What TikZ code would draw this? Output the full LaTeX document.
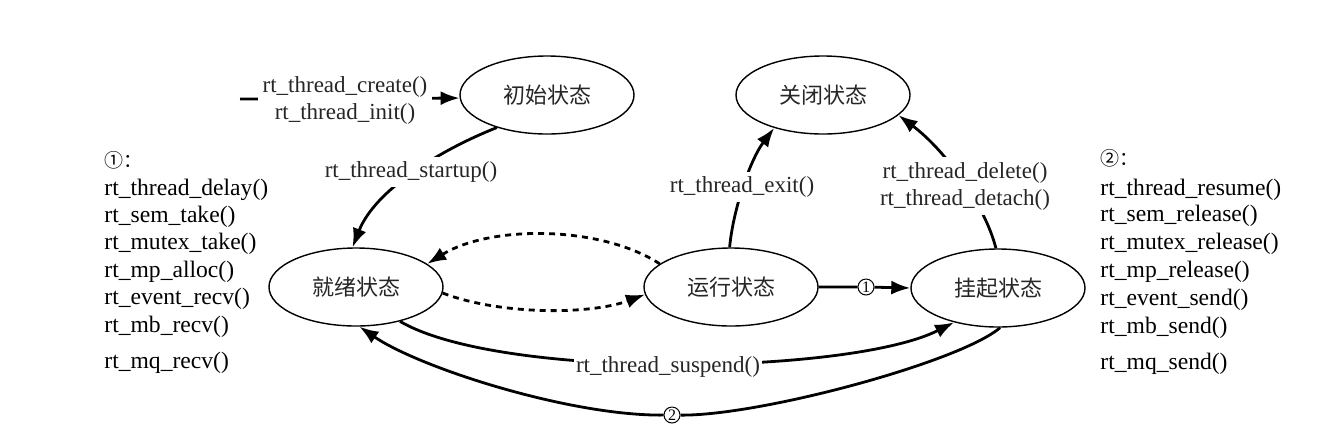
\documentclass[tikz,border=0pt]{standalone}
\usepackage{fontspec}
\setmainfont{Liberation Serif}
\newfontfamily\cjk{Noto Sans CJK SC}
\usetikzlibrary{arrows.meta,shapes.geometric}
\begin{document}
\begin{tikzpicture}[x=0.5pt,y=-0.5pt,
  state/.style={draw,ellipse,line width=0.7pt,minimum width=87pt,minimum height=39pt,inner sep=0pt,text=black!85,font=\cjk\fontsize{11}{13}\selectfont},
  lbl/.style={font=\fontsize{11.5}{13.5}\selectfont,fill=white,inner sep=2.5pt,align=center,text=black!85},
  arr/.style={line width=1.4pt,-{Latex[length=9.5pt,width=7pt]}},
  dsh/.style={arr,dash pattern=on 3pt off 2.5pt},
  num/.style={circle,draw,line width=0.5pt,inner sep=0pt,minimum size=8pt,fill=white,font=\fontsize{8}{8}\selectfont},
  lst/.style={anchor=west,inner sep=0pt,font=\fontsize{11.8}{13.5}\selectfont},
  hdr/.style={anchor=west,inner sep=0pt,font=\cjk\fontsize{9.5}{11}\selectfont}
]
\path[use as bounding box] (0,0) rectangle (1326,424);

% states
\node[state] (init) at (547,95) {初始状态};
\node[state] (closed) at (823,95) {关闭状态};
\node[state] (ready) at (356,287) {就绪状态};
\node[state] (run) at (731,287) {运行状态};
\node[state] (susp) at (998,288) {挂起状态};

% entry
\coordinate (start) at (240,99);
\draw[arr] (start) -- (init.182);
\node[lbl] (lcreate) at (345,100) {rt\_thread\_create()\\rt\_thread\_init()};

% init -> ready
\draw[arr] (init.213) .. controls (440,150) and (375,190) .. (ready.95);
\node[lbl] (lstart) at (411,172) {rt\_thread\_startup()};

% run -> closed
\draw[arr] (run.92) .. controls (733,210) and (750,160) .. (closed.214);
\node[lbl] (lexit) at (742,187) {rt\_thread\_exit()};

% susp -> closed
\draw[arr] (susp.93) .. controls (985,205) and (945,150) .. (closed.-15);
\node[lbl] (ldel) at (965,186) {rt\_thread\_delete()\\rt\_thread\_detach()};

% dashed between ready and run
\draw[dsh] (run.162) .. controls (600,225) and (490,225) .. (ready.18);
\draw[dsh] (ready.-4) .. controls (500,315) and (590,315) .. (run.185);

% run -> susp via 1
\node[num] (c1) at (866,287) {1};
\draw[arr] (run.east) -- (c1) -- (susp.west);

% ready -> susp (suspend)
\draw[arr] (ready.-38) .. controls (500,380) and (850,375) .. (susp.218);
\node[lbl,inner sep=1pt] (lsusp) at (668,367) {rt\_thread\_suspend()};

% susp -> ready via 2
\node[num] (c2) at (672,415) {2};
\draw[arr] (susp.-87) .. controls (960,362) and (760,416) .. (c2) .. controls (570,416) and (420,368) .. (ready.-85);

% left list
\node[hdr] (h1) at (104,160) {①：};
\node[lst] (a1) at (104,190) {rt\_thread\_delay()};
\node[lst] (a2) at (104,217) {rt\_sem\_take()};
\node[lst] (a3) at (104,244) {rt\_mutex\_take()};
\node[lst] (a4) at (104,272) {rt\_mp\_alloc()};
\node[lst] (a5) at (104,299) {rt\_event\_recv()};
\node[lst] (a6) at (104,327) {rt\_mb\_recv()};
\node[lst] (a7) at (104,363) {rt\_mq\_recv()};

% right list
\node[hdr] (h2) at (1100,158) {②：};
\node[lst] (b1) at (1100,190) {rt\_thread\_resume()};
\node[lst] (b2) at (1100,216) {rt\_sem\_release()};
\node[lst] (b3) at (1100,244) {rt\_mutex\_release()};
\node[lst] (b4) at (1100,272) {rt\_mp\_release()};
\node[lst] (b5) at (1100,300) {rt\_event\_send()};
\node[lst] (b6) at (1100,328) {rt\_mb\_send()};
\node[lst] (b7) at (1100,364) {rt\_mq\_send()};
\end{tikzpicture}
\end{document}
